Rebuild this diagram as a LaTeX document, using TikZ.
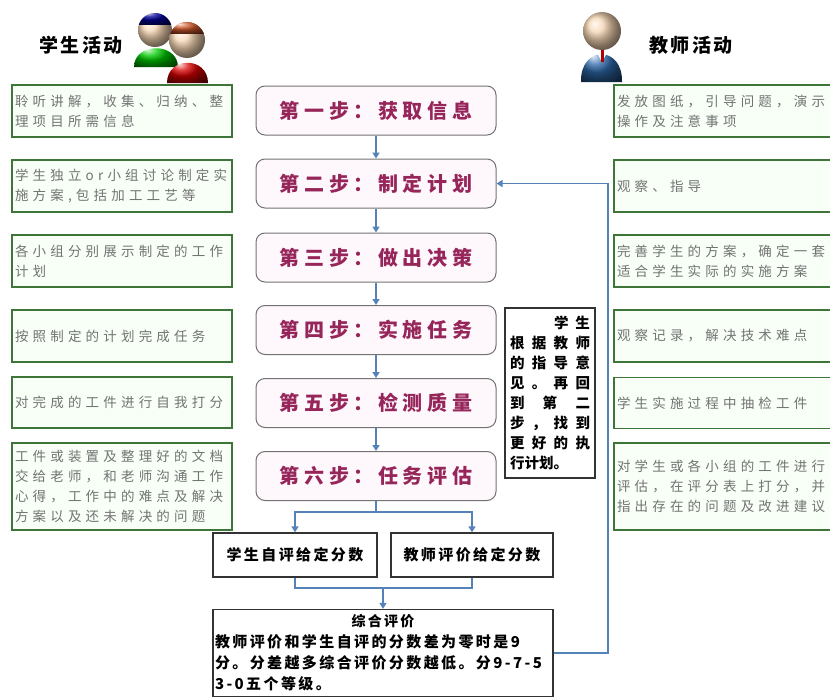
\documentclass[tikz,border=0pt]{standalone}
\usepackage{fontspec}
\usetikzlibrary{arrows.meta,positioning}
\newfontfamily\cjk{Noto Sans CJK SC}
\newfontfamily\titlefont[LetterSpace=12]{Noto Sans CJK SC}
\newfontfamily\stepfont[LetterSpace=23]{Noto Sans CJK SC}
\newfontfamily\notefont[LetterSpace=31]{Noto Sans CJK SC}
\newfontfamily\sumfont[LetterSpace=16]{Noto Sans CJK SC}
\definecolor{flowblue}{RGB}{84,130,185}
\definecolor{stepred}{RGB}{150,38,90}
\definecolor{notegreen}{RGB}{62,118,58}
\definecolor{skin}{RGB}{246,214,180}
\definecolor{suitblue}{RGB}{45,105,170}
\newcommand{\advline}[1]{\makebox[80pt]{#1}}

\begin{document}
\begin{tikzpicture}[x=1pt,y=-1pt,>={Triangle[width=7pt,length=6pt]},
		note/.style={draw=notegreen,line width=1.4pt,fill=green!3,inner sep=3pt,
			align=left,text=black!55,font=\notefont\fontsize{13.5}{20}\selectfont},
		stepbox/.style={draw=black!55,line width=1pt,rounded corners=9pt,fill=magenta!3,
			minimum width=240pt,minimum height=49pt,text=stepred,
			font=\stepfont\bfseries\fontsize{20}{24}\selectfont},
		scorebox/.style={draw=black!80,line width=1.3pt,fill=white,inner sep=0pt,
			font=\sumfont\bfseries\fontsize{15}{21}\selectfont},
		flow/.style={->,draw=flowblue,line width=1.8pt},
		link/.style={draw=flowblue,line width=1.8pt}]
		\useasboundingbox (0,0) rectangle (830,699);
		%\draw[help lines] (0,0) grid[step=50] (830,699);
		% icons
		\shade[ball color=green!80!black] (134,67) .. controls (134,42) and (178,42) .. (178,67) -- cycle;
		\shade[ball color=skin] (155,30) circle (17);
		\begin{scope}
			\clip (155,30) circle (17);
			\shade[ball color=blue!60!black] (136,8) rectangle (174,24);
		\end{scope}
		\shade[ball color=red!85!black] (167,83) .. controls (167,56) and (208,56) .. (208,83) -- cycle;
		\shade[ball color=skin] (187,40) circle (18);
		\begin{scope}
			\clip (187,40) circle (18);
			\shade[ball color=brown!70!red] (168,20) rectangle (206,33);
		\end{scope}
		\shade[ball color=suitblue] (581,82) .. controls (580,45) and (623,45) .. (622,82) -- cycle;
		\fill[white] (595,49) -- (609,49) -- (602,62) -- cycle;
		\fill[red!70!black] (600.5,50) rectangle (603.5,62);
		\shade[ball color=skin] (602,31) circle (19);
		\node[font=\titlefont\bfseries\fontsize{19}{22}\selectfont] (stu) at (81,45) {学生活动};
		\node[font=\titlefont\bfseries\fontsize{19}{22}\selectfont] (tea) at (691,45) {教师活动};
		% student side
		\foreach \Y/\H/\T [count=\N] in {111/52/{聆听讲解，收集、归纳、整\\理项目所需信息},
			186/52/{学生独立or小组讨论制定实\\施方案,包括加工工艺等},
			261/52/{各小组分别展示制定的工作\\计划},
			336/52/{按照制定的计划完成任务},
			402.5/51/{对完成的工件进行自我打分},
			486.5/87/{工件或装置及整理好的文档\\交给老师，和老师沟通工作\\心得，工作中的难点及解决\\方案以及还未解决的问题}}
		{\node[note,text width=214pt,minimum height=\H pt] (l\N) at (122,\Y) {\T};}
		% teacher side
		\foreach \Y/\H/\T [count=\N] in {111/52/{发放图纸，引导问题，演示\\操作及注意事项},
			186/52/{观察、指导},
			261/52/{完善学生的方案，确定一套\\适合学生实际的实施方案},
			336/52/{观察记录，解决技术难点},
			403/51/{学生实施过程中抽检工件},
			486.5/87/{对学生或各小组的工件进行\\评估，在评分表上打分，并\\指出存在的问题及改进建议\\[-8pt]}}
		{\node[note,text width=222pt,minimum height=\H pt] (r\N) at (728,\Y) {\T};}
		% steps
		\foreach \Y/\T [count=\N] in {110.5/第一步：获取信息,183.5/第二步：制定计划,
			257.5/第三步：做出决策,330/第四步：实施任务,403/第五步：检测质量,476/第六步：任务评估}
		{\node[stepbox] (s\N) at (376,\Y) {\T};}
		\foreach \N [count=\M from 2] in {1,...,5}
		{\draw[flow] (s\N) -- (s\M);}
		\node[draw=black!80,line width=1.2pt,fill=white,minimum width=90pt,minimum height=170pt,
			inner sep=0pt,align=left,font=\cjk\bfseries\fontsize{14.5}{20}\selectfont] (advice) at (550,393)
			{\advline{\hfill 学\hspace{7pt}生}\\\advline{根\hfill 据\hfill 教\hfill 师}\\
			\advline{的\hfill 指\hfill 导\hfill 意}\\\advline{见\hfill 。\hfill 再\hfill 回}\\
			\advline{到\hfill 第\hfill 二}\\\advline{步\hfill ，\hfill 找\hfill 到}\\
			\advline{更\hfill 好\hfill 的\hfill 执}\\\advline{行计划。\hfill}};
		% scoring
		\coordinate (split) at (376,512);
		\node[scorebox,minimum width=164pt,minimum height=44pt] (ev1) at (295,555) {学生自评给定分数};
		\node[scorebox,minimum width=162pt,minimum height=44pt] (ev2) at (472,555) {教师评价给定分数};
		\coordinate (join) at (383,588);
		\node[scorebox,minimum width=340pt,minimum height=87pt,text width=336pt,align=left] (sum) at (383,653)
			{\makebox[336pt]{\fontsize{14}{21}\selectfont 综合评价}\\教师评价和学生自评的分数差为零时是9\\
			分。分差越多综合评价分数越低。分9-7-5\\3-0五个等级。};
		\draw[link] (s6) -- (split);
		\draw[flow] (split) -| (ev1);
		\draw[flow] (split) -| (ev2);
		\draw[link] (ev1) |- (join) -| (ev2);
		\draw[flow] (join) -- (sum);
		\coordinate (back) at (608,183.5);
		\draw[flow,line width=1.5pt] (sum.east) -| (back) -- (s2.east);
\end{tikzpicture}
\end{document}
